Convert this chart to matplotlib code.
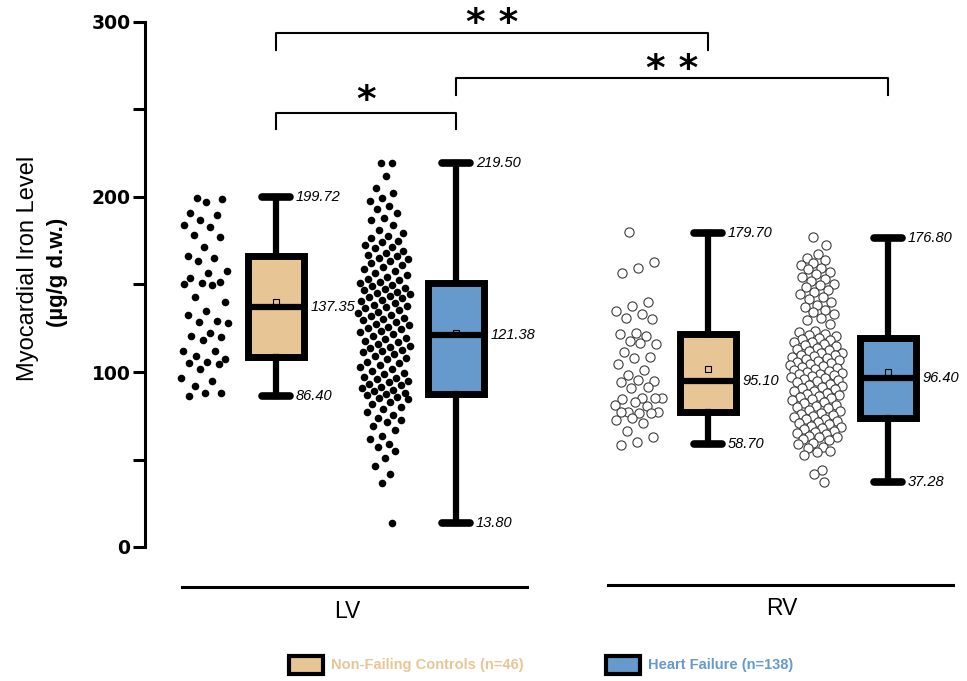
import matplotlib.pyplot as plt
import numpy as np
from matplotlib.patches import Rectangle

plt.rcParams['font.family'] = ['Liberation Sans', 'DejaVu Sans']

# data
group_names = ['LV NF', 'LV HF', 'RV NF', 'RV HF']
chamber_labels = ['LV', 'RV']
legend_labels = ['Non-Failing Controls (n=46)', 'Heart Failure (n=138)']

lv_nf = [199.7, 198.9, 197.0, 190.7, 189.7, 186.9, 184.0, 182.7, 178.3, 177.3,
         171.6, 166.3, 165.0, 163.4, 157.7, 156.4, 153.5, 151.6, 150.7, 150.1,
         149.7, 143.0, 139.8, 134.9, 132.6, 129.3, 128.8, 128.2, 122.5, 120.8,
         120.2, 118.1, 112.2, 112.0, 109.3, 107.4, 105.5, 105.0, 104.8, 101.7,
         96.4, 95.0, 92.0, 88.2, 87.8, 86.4]

lv_hf = [219.5, 219.5, 211.8,
         205.4, 202.1, 199.5, 197.8, 194.6, 192.9,
         190.8, 188.1, 186.7, 183.9, 181.2, 179.6, 177.5,
         176.3, 175.0, 174.2, 172.8, 171.4, 170.9, 169.2, 168.0, 167.1, 166.4, 165.3, 164.6,
         163.7, 162.5, 161.2, 160.1, 158.6, 157.9, 156.3, 155.4, 154.0, 153.2, 152.5, 151.3,
         150.7, 149.9, 149.2, 148.1, 147.6, 146.8, 146.0, 145.1, 144.7, 143.5, 142.9, 142.2,
         141.0, 140.4, 139.6, 138.5, 137.9, 137.2,
         136.3, 135.6, 134.5, 133.9, 132.8, 132.1, 131.0, 130.2, 129.6, 128.3, 127.7, 126.9,
         125.8, 125.1, 124.4,
         123.6, 122.7, 121.9, 120.8, 119.5, 118.9, 117.6, 117.0, 116.2, 115.1, 114.3, 113.8,
         112.6, 111.9, 111.2,
         110.3, 109.2, 108.1, 107.4, 106.0, 105.2, 104.1, 102.8, 101.9, 100.6, 99.7, 98.8, 97.4,
         96.7, 95.9, 95.1, 94.3, 93.2, 92.6, 91.7, 90.9, 89.8, 89.1, 88.2, 87.5, 86.8, 86.0,
         85.3, 84.5,
         83.1, 81.9, 80.2, 78.6, 76.9, 75.4, 73.8, 72.5, 71.2,
         69.3, 66.8, 63.5, 61.7, 58.9, 57.4,
         54.8, 50.6, 46.1, 41.9, 36.6, 13.8]

rv_nf = [179.8, 163.0, 159.2, 156.8, 140.2, 137.7, 135.0, 133.1, 130.7, 130.5,
         122.5, 121.7, 120.6, 117.9, 116.0, 116.3, 111.6, 108.8, 107.8, 104.6,
         101.1, 98.3, 95.0, 95.2, 94.5, 91.6, 90.7, 85.2, 84.9, 84.6,
         85.0, 83.0, 81.2, 80.6, 77.1, 76.9, 76.5, 77.3, 76.7, 73.5,
         72.6, 71.0, 66.3, 62.7, 60.2, 58.3]

rv_hf = [177.0, 172.4,
         167.3, 165.4, 163.9, 162.0, 161.2, 159.5, 158.9,
         157.1, 155.8, 154.2, 152.9, 151.8, 150.1, 149.6, 148.3, 146.8, 145.9,
         144.3, 142.6, 141.7, 140.2, 138.4, 137.3, 135.7, 134.2, 132.9, 131.0, 129.5, 127.4,
         123.2, 122.6, 121.5, 121.1, 120.3, 119.4, 118.9, 118.2, 117.3, 116.9, 116.0, 115.2,
         114.7, 113.8, 113.2, 112.3, 111.9, 111.1,
         110.8, 110.0, 109.7, 108.9, 108.5, 107.8, 107.4, 106.6, 106.2, 105.5, 105.1, 104.3,
         104.0, 103.2, 102.8, 102.1, 101.7, 100.9, 100.6, 99.8, 99.5, 98.8, 98.6, 98.1, 97.9,
         97.2, 96.7, 95.9, 95.4, 94.6, 94.1, 93.3, 92.8, 92.0, 91.5, 90.7, 90.2, 89.4, 88.9,
         88.1, 87.6, 86.8, 86.3, 85.5, 85.2,
         84.5, 83.9, 82.9, 82.4, 81.4, 80.8, 79.8, 79.3, 78.3, 77.7, 76.7, 76.2, 75.2, 74.7, 74.1,
         73.4, 72.9, 72.0, 71.5, 70.6, 70.1, 69.2, 68.7, 67.8, 67.3, 66.4, 65.9, 65.0, 64.5,
         63.6, 63.1, 62.6, 62.0,
         61.4, 59.7, 58.7, 57.4, 56.3, 54.9, 54.2, 52.7,
         44.0, 41.6, 37.3]

medians = [137.35, 121.38, 95.10, 96.40]
q1s = [108.5, 87.5, 77.3, 73.7]
q3s = [166.5, 151.0, 121.7, 119.4]
mins = [86.40, 13.80, 58.70, 37.28]
maxs = [199.72, 219.50, 179.70, 176.80]
means = [140.0, 122.5, 102.0, 100.0]

tan = '#E7C595'
blue = '#6699CC'
box_colors = [tan, blue, tan, blue]


def jitter(vals, half, floor):
    # spread points sideways, wider where they are dense
    v = np.asarray(vals)
    dens = np.array([(np.abs(v - x) < 12).sum() for x in v], dtype=float)
    scale = np.maximum(np.sqrt(dens / dens.max()), floor)
    phase = (np.arange(len(v)) * 0.6180339887 + 0.3) % 1.0
    return (phase - 0.5) * 2 * half * scale


fig = plt.figure(figsize=(9.67, 6.81), dpi=100)
ax = fig.add_axes([145 / 967, 134 / 681, 810 / 967, 525 / 681])

pos = [0, 1, 2.4, 3.4]
dot_off = -0.395
dot_sets = [lv_nf, lv_hf, rv_nf, rv_hf]
halves = [0.145, 0.155, 0.145, 0.155]
floors = [0.8, 0.25, 0.8, 0.25]

for i, vals in enumerate(dot_sets):
    xs = pos[i] + dot_off + jitter(vals, halves[i], floors[i])
    if i < 2:
        ax.scatter(xs, vals, s=30, c='black', lw=0, zorder=3)
    else:
        ax.scatter(xs, vals, s=44, facecolor='white', edgecolor='#3c3c3c',
                   lw=0.8, zorder=3)

stats = []
for i in range(4):
    stats.append(dict(med=medians[i], q1=q1s[i], q3=q3s[i], whislo=mins[i],
                      whishi=maxs[i], mean=means[i], fliers=[]))

bp = ax.bxp(stats, positions=pos, widths=0.31, capwidths=0.16, patch_artist=True,
            showmeans=True, showfliers=False,
            boxprops=dict(linewidth=5, edgecolor='black'),
            whiskerprops=dict(linewidth=4.5, color='black'),
            capprops=dict(linewidth=5.5, color='black', solid_capstyle='round'),
            medianprops=dict(linewidth=4.5, color='black'),
            meanprops=dict(marker='s', markersize=4.5, markerfacecolor='none',
                           markeredgecolor='black', markeredgewidth=0.8))
for patch, col in zip(bp['boxes'], box_colors):
    patch.set_facecolor(col)

for i in range(4):
    ax.text(pos[i] + 0.11, maxs[i], f'{maxs[i]:.2f}', ha='left', va='center',
            style='italic', fontsize=10.5)
    ax.text(pos[i] + 0.11, mins[i], f'{mins[i]:.2f}', ha='left', va='center',
            style='italic', fontsize=10.5)
    ax.text(pos[i] + 0.19, medians[i], f'{medians[i]:.2f}', ha='left', va='center',
            style='italic', fontsize=10.5)


def bracket(x1, x2, y, drop, txt, ty):
    ax.plot([x1, x1, x2, x2], [y - drop, y, y, y - drop], color='black', lw=1.5,
            clip_on=False)
    ax.text((x1 + x2) / 2, ty, txt, ha='center', va='baseline', fontsize=27,
            fontweight='bold', family=['DejaVu Sans'], clip_on=False)


bracket(pos[0], pos[2], 293.7, 9.5, '* *', 293)
bracket(pos[1], pos[3], 268, 10, '* *', 267)
bracket(pos[0], pos[1], 248, 9, '*', 249)

# group underlines and labels
ax.plot([-0.522, 1.394], [-22.9, -22.9], color='black', lw=2.2, clip_on=False)
ax.plot([1.844, 3.761], [-21.8, -21.8], color='black', lw=2.2, clip_on=False)
ax.text(0.394, -37.1, chamber_labels[0], ha='center', va='center', fontsize=16.5)
ax.text(2.811, -35.4, chamber_labels[1], ha='center', va='center', fontsize=16.5)

ax.set_xlim(-0.728, 3.772)
ax.set_ylim(0, 300)
for s in ['top', 'right', 'bottom']:
    ax.spines[s].set_visible(False)
ax.spines['left'].set_linewidth(2.2)
ax.set_xticks([])
ax.set_yticks([0, 100, 200, 300])
ax.set_yticks([50, 150, 250], minor=True)
ax.tick_params(axis='y', which='both', length=9, width=2.2, pad=1.5)
for lab in ax.get_yticklabels():
    lab.set_fontfamily('DejaVu Sans')
    lab.set_fontweight('bold')
    lab.set_fontsize(13.5)

fig.text(28 / 967, 1 - 268 / 681, 'Myocardial Iron Level', rotation=90,
         ha='center', va='center', fontsize=17)
fig.text(57 / 967, 1 - 272 / 681, '(µg/g d.w.)', rotation=90,
         ha='center', va='center', fontsize=16, fontweight='bold')

# legend
W, H = 967, 681
for x0, col, lab, tx in [(289, tan, legend_labels[0], 331),
                         (606, blue, legend_labels[1], 648)]:
    fig.patches.append(Rectangle((x0 / W, 1 - 674 / H), 34 / W, 18 / H,
                                 facecolor=col, edgecolor='black', lw=3,
                                 transform=fig.transFigure))
    fig.text(tx / W, 1 - 665 / H, lab, color=col, fontsize=10.5,
             fontweight='bold', ha='left', va='center')

fig.savefig('out.png', dpi=100)
